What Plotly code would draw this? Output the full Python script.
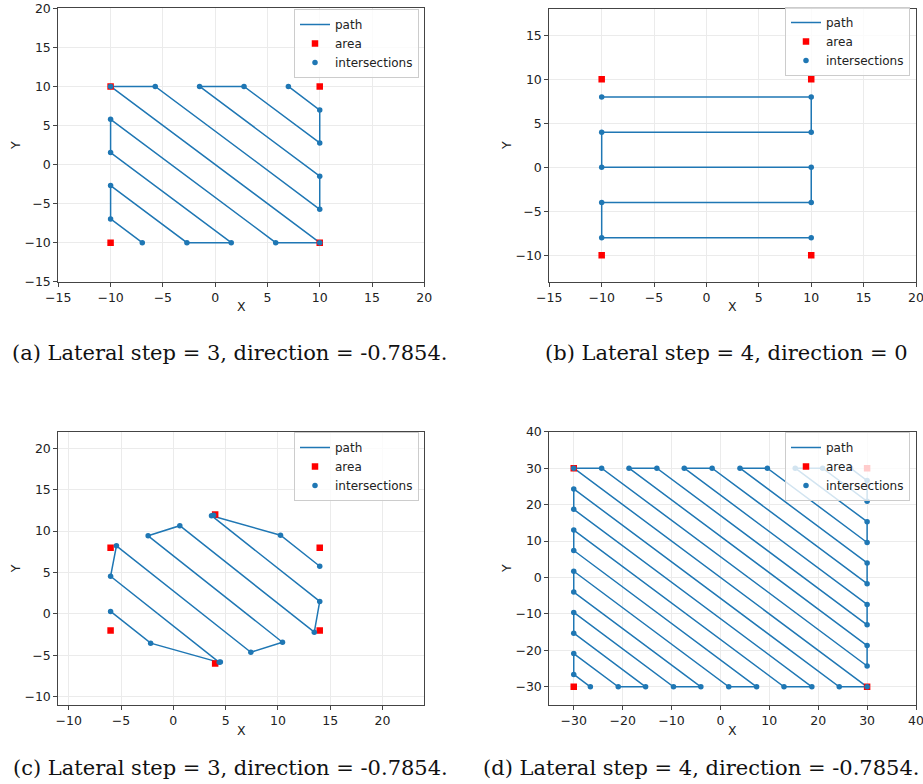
import plotly.graph_objects as go

W, H = 923, 784

# ---------------- data ----------------
# (a) lateral step 3, direction -0.7854, square area
a_area_x = [-10, 10, 10, -10]
a_area_y = [10, 10, -10, -10]
a_path_x = [7.0, 10.0, 10.0, 2.76, -1.49, 10.0, 10.0, -5.73, -10.0, 10.0, 5.79, -10.0, -10.0, 1.54, -2.7, -10.0, -10.0, -6.97]
a_path_y = [10.0, 6.97, 2.76, 10.0, 10.0, -1.49, -5.73, 10.0, 10.0, -10.0, -10.0, 5.79, 1.54, -10.0, -10.0, -2.7, -6.97, -10.0]
a_int_x = a_path_x
a_int_y = a_path_y

# (b) lateral step 4, direction 0, square area
b_area_x = [-10, 10, 10, -10]
b_area_y = [10, 10, -10, -10]
b_path_x = [-10, 10, 10, -10, -10, 10, 10, -10, -10, 10]
b_path_y = [8, 8, 4, 4, 0, 0, -4, -4, -8, -8]
b_int_x = b_path_x
b_int_y = b_path_y

# (c) lateral step 3, direction -0.7854, hexagon area
c_area_x = [4, 14, 14, 4, -6, -6]
c_area_y = [12, 8, -2, -6, -2, 8]
c_path_x = [14.0, 10.25, 3.65, 14.0, 13.48, 0.62, -2.41, 10.44, 7.41, -5.44, -6.0, 4.39, -2.17, -6.0]
c_path_y = [5.75, 9.5, 11.86, 1.51, -2.21, 10.65, 9.43, -3.42, -4.63, 8.22, 4.54, -5.85, -3.53, 0.3]
c_int_x = [14.0, 10.25, 3.65, 3.85, 14.0, 13.48, 0.62, -2.41, 10.44, 7.41, -5.44, -6.0, 4.39, 4.5, -2.17, -6.0]
c_int_y = [5.75, 9.5, 11.86, 11.9, 1.51, -2.21, 10.65, 9.43, -3.42, -4.63, 8.22, 4.54, -5.85, -5.8, -3.53, 0.3]

# (d) lateral step 4, direction -0.7854, large square area
d_area_x = [-30, 30, 30, -30]
d_area_y = [30, 30, -30, -30]
d_path_x = [26.6, 30, 30, 20.9, 15.3, 30, 30, 9.6, 4.0, 30, 30, -1.7, -7.4, 30, 30, -13.0, -18.7, 30, 30, -24.3, -30,
            30, 24.3, -30, -30, 18.7, 13.0, -30, -30, 7.4, 1.7, -30, -30, -4.0, -9.6, -30, -30, -15.3, -20.9, -30, -30, -26.6]
d_path_y = [30, 26.6, 20.9, 30, 30, 15.3, 9.6, 30, 30, 4.0, -1.7, 30, 30, -7.4, -13.0, 30, 30, -18.7, -24.3, 30, 30,
            -30, -30, 24.3, 18.7, -30, -30, 13.0, 7.4, -30, -30, 1.7, -4.0, -30, -30, -9.6, -15.3, -30, -30, -20.9, -26.6, -30]
d_int_x = d_path_x
d_int_y = d_path_y

captions = [
    "(a) Lateral step = 3, direction = -0.7854.",
    "(b) Lateral step = 4, direction = 0",
    "(c) Lateral step = 3, direction = -0.7854.",
    "(d) Lateral step = 4, direction = -0.7854.",
]

# ---------------- layout helpers ----------------
BLUE = "#1f77b4"
TXT = "#222222"
FONT = "DejaVu Sans"
FS = 12.5


def px_x(p):
    return p / W


def px_y(p):
    return 1 - p / H


panels = [
    dict(data=(a_path_x, a_path_y, a_area_x, a_area_y, a_int_x, a_int_y),
         xd=(58.3, 424.3), yd=(8.3, 281.7), xr=[-15, 20], yr=[-15, 20], xt=5, yt=5,
         leg=(419, 9)),
    dict(data=(b_path_x, b_path_y, b_area_x, b_area_y, b_int_x, b_int_y),
         xd=(549.3, 916), yd=(9, 281.7), xr=[-15, 20], yr=[-13, 18], xt=5, yt=5,
         leg=(910, 7)),
    dict(data=(c_path_x, c_path_y, c_area_x, c_area_y, c_int_x, c_int_y),
         xd=(58.3, 424.3), yd=(431.7, 705), xr=[-11, 24], yr=[-11, 22], xt=5, yt=5,
         leg=(419, 432)),
    dict(data=(d_path_x, d_path_y, d_area_x, d_area_y, d_int_x, d_int_y),
         xd=(549.3, 916), yd=(431.7, 705), xr=[-35, 40], yr=[-35, 40], xt=10, yt=10,
         leg=(910, 432)),
]

fig = go.Figure()
layout = dict(width=W, height=H, margin=dict(l=0, r=0, t=0, b=0, pad=0, autoexpand=False),
              paper_bgcolor="white", plot_bgcolor="white",
              font=dict(family=FONT, size=FS, color=TXT), annotations=[])

for i, p in enumerate(panels, start=1):
    sx = "" if i == 1 else str(i)
    leg = "legend" if i == 1 else f"legend{i}"
    px_, py_, ax_, ay_, ix_, iy_ = p["data"]
    fig.add_trace(go.Scatter(x=px_, y=py_, mode="lines", name="path",
                             line=dict(color=BLUE, width=1.5),
                             xaxis="x" + sx, yaxis="y" + sx, legend=leg))
    fig.add_trace(go.Scatter(x=ax_, y=ay_, mode="markers", name="area",
                             marker=dict(symbol="square", color="red", size=6.5),
                             xaxis="x" + sx, yaxis="y" + sx, legend=leg))
    fig.add_trace(go.Scatter(x=ix_, y=iy_, mode="markers", name="intersections",
                             marker=dict(symbol="circle", color=BLUE, size=5.5),
                             xaxis="x" + sx, yaxis="y" + sx, legend=leg))
    axcommon = dict(showline=True, linecolor="#444444", linewidth=1, mirror=True,
                    ticks="outside", ticklen=4, tickwidth=1, tickcolor="#444444",
                    showgrid=True, gridcolor="#ebebeb", gridwidth=1, zeroline=False,
                    automargin=False, ticklabeloverflow="allow",
                    tickfont=dict(family=FONT, size=FS, color=TXT), fixedrange=True)
    layout["xaxis" + sx] = dict(axcommon, domain=[px_x(p["xd"][0]), px_x(p["xd"][1])],
                                range=p["xr"], dtick=p["xt"], tick0=0,
                                anchor="y" + sx)
    layout["yaxis" + sx] = dict(axcommon, domain=[px_y(p["yd"][1]), px_y(p["yd"][0])],
                                range=p["yr"], dtick=p["yt"], tick0=0,
                                anchor="x" + sx)
    layout[leg] = dict(x=px_x(p["leg"][0]), y=px_y(p["leg"][1]), xanchor="right", yanchor="top",
                       bgcolor="rgba(255,255,255,0.8)", bordercolor="#cccccc", borderwidth=1,
                       font=dict(family=FONT, size=12, color=TXT))
    # axis labels
    xc = (p["xd"][0] + p["xd"][1]) / 2
    yc = (p["yd"][0] + p["yd"][1]) / 2
    layout["annotations"].append(dict(text="X", xref="paper", yref="paper",
                                      x=px_x(xc), y=px_y(p["yd"][1] + 25), showarrow=False,
                                      xanchor="center", yanchor="middle",
                                      font=dict(family=FONT, size=FS, color=TXT)))
    ylab_x = 15 if i in (1, 3) else 506.7
    layout["annotations"].append(dict(text="Y", xref="paper", yref="paper",
                                      x=px_x(ylab_x), y=px_y(yc), showarrow=False, textangle=-90,
                                      xanchor="center", yanchor="middle",
                                      font=dict(family=FONT, size=FS, color=TXT)))

cap_pos = [(230, 353, "center"), (726.5, 353, "center"), (230, 768, "center"), (921, 768, "right")]
for cap, (cx, cy, anc) in zip(captions, cap_pos):
    layout["annotations"].append(dict(text=cap, xref="paper", yref="paper",
                                      x=px_x(cx), y=px_y(cy), showarrow=False,
                                      xanchor=anc, yanchor="middle",
                                      font=dict(family="DejaVu Serif", size=21, color="#111111")))

fig.update_layout(**layout)
fig.write_html("out.html", config={"displayModeBar": False},
               post_script="document.body.style.margin='0';document.body.style.overflow='hidden';")
